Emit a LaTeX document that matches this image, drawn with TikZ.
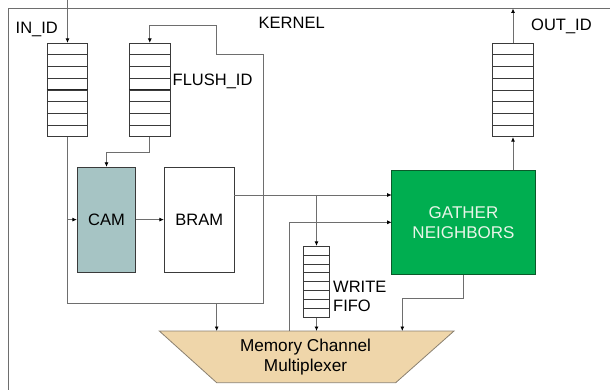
\documentclass[tikz,border=0pt]{standalone}
\usepackage{fontspec}
\setmainfont{Liberation Sans}
\usetikzlibrary{arrows.meta,calc}
\definecolor{camfill}{HTML}{A6C4C4}
\definecolor{gfill}{HTML}{00AE50}
\definecolor{gdraw}{HTML}{0A5A2A}
\definecolor{gtext}{HTML}{E8F5E8}
\definecolor{muxfill}{HTML}{EFD6AA}
\definecolor{muxdraw}{HTML}{8A8070}
\definecolor{wire}{HTML}{6E6E6E}
\definecolor{boxdraw}{HTML}{3A3A3A}
\tikzset{
  wireline/.style={draw=wire, line width=0.8pt},
  arr/.style={wireline, -{Latex[length=4.5pt,width=4pt,color=black]}},
  fifobox/.style={draw=boxdraw, fill=white, line width=0.8pt, inner sep=0pt, minimum width=40.5pt, minimum height=93.4pt},
  blockbox/.style={draw=boxdraw, line width=0.8pt, inner sep=0pt, font=\fontsize{16.5}{19}\selectfont},
  lbl/.style={inner sep=0pt, font=\fontsize{16.5}{19}\selectfont, anchor=west}
}
\begin{document}
\begin{tikzpicture}[x=1pt,y=-1pt]
\useasboundingbox (0,0) rectangle (610,390);
% kernel border
\coordinate (kbl) at (8,390);
\coordinate (ktl) at (8,8.5);
\coordinate (ktr) at (610,8.5);
\draw[draw=wire, line width=0.8pt] (kbl) -- (ktl) -- (ktr);
\node[lbl] (kernel) at (258.5,22.5) {KERNEL};

% FIFOs
\node[fifobox] (fifoin) at (67.5,90) {};
\node[fifobox] (fifoflush) at (149.8,90) {};
\node[fifobox] (fifoout) at (513,90) {};
\node[fifobox, minimum width=26pt, minimum height=71pt] (fifowr) at (316.5,281.8) {};
\foreach \f in {fifoin,fifoflush,fifoout,fifowr}{
  \foreach \i in {1,...,7}{
    \draw[draw=boxdraw, line width=0.7pt] ($(\f.north west)!\i/8!(\f.south west)$) -- ($(\f.north east)!\i/8!(\f.south east)$);
  }
}
\foreach \f in {fifoin,fifoflush}{
  \draw[draw=black!85, line width=1pt] ($(\f.north west)!0.5!(\f.south west)$) -- ($(\f.north east)!0.5!(\f.south east)$);
}
\node[lbl] (lin) at (15.5,29) {IN\_ID};
\node[lbl] (lflush) at (172.5,81.5) {FLUSH\_ID};
\node[lbl] (lout) at (531,26.5) {OUT\_ID};
\node[lbl, align=left] (lwr) at (333,296) {WRITE\\FIFO};

% blocks
\node[blockbox, fill=camfill, minimum width=58.4pt, minimum height=104.7pt] (cam) at (106.5,219.6) {CAM};
\node[blockbox, fill=white, minimum width=70pt, minimum height=104.7pt] (bram) at (199.3,219.6) {BRAM};
\node[blockbox, draw=gdraw, fill=gfill, text=gtext, align=center, font=\fontsize{17}{20}\selectfont, minimum width=143.6pt, minimum height=104.4pt] (gather) at (463.5,222.5) {GATHER\\NEIGHBORS};

% multiplexer
\coordinate (mtl) at (159.3,331);
\coordinate (mtr) at (454,331);
\coordinate (mbr) at (395.7,382.7);
\coordinate (mbl) at (216.7,382.7);
\draw[draw=muxdraw, fill=muxfill, line width=0.8pt] (mtl) -- (mtr) -- (mbr) -- (mbl) -- cycle;
\node[inner sep=0pt, align=center, font=\fontsize{17.2}{20.5}\selectfont] (mux) at (305.5,357) {Memory Channel\\Multiplexer};

% connectors
\coordinate (intop) at (67.5,0);
\draw[arr] (intop) -- (fifoin.north);
\coordinate (l1) at (67.5,303);
\coordinate (l2) at (263.3,303);
\coordinate (l3) at (263.3,54.3);
\coordinate (l4) at (216.7,54.3);
\coordinate (l5) at (216.7,25.7);
\coordinate (l6) at (149.8,25.7);
\draw[arr] (fifoin.south) -- (l1) -- (l2) -- (l3) -- (l4) -- (l5) -- (l6) -- (fifoflush.north);
\coordinate (camin) at (67.5,219.6);
\draw[arr] (camin) -- (cam.west);
\coordinate (mx1) at (216.7,303);
\coordinate (mx1b) at (216.7,331);
\draw[arr] (mx1) -- (mx1b);
\coordinate (f1) at (149.8,152.7);
\coordinate (f2) at (106.5,152.7);
\draw[arr] (fifoflush.south) -- (f1) -- (f2) -- (cam.north);
\draw[arr] (cam.east) -- (bram.west);
\coordinate (bo) at (234.3,195);
\coordinate (gi1) at (391.7,195);
\draw[arr] (bo) -- (gi1);
\coordinate (wb) at (316.5,195);
\draw[arr] (wb) -- (fifowr.north);
\coordinate (wm) at (316.5,331);
\draw[arr] (fifowr.south) -- (wm);
\coordinate (m2) at (289,331);
\coordinate (m2a) at (289,222.3);
\coordinate (gi2) at (391.7,222.3);
\draw[arr] (m2) -- (m2a) -- (gi2);
\coordinate (g1) at (463.5,298.3);
\coordinate (g2) at (402.3,298.3);
\coordinate (g3) at (402.3,331);
\draw[arr] (gather.south) -- (g1) -- (g2) -- (g3);
\coordinate (go) at (513,170.3);
\draw[arr] (go) -- (fifoout.south);
\coordinate (otop) at (513,8.5);
\draw[arr] (fifoout.north) -- (otop);
\end{tikzpicture}
\end{document}
